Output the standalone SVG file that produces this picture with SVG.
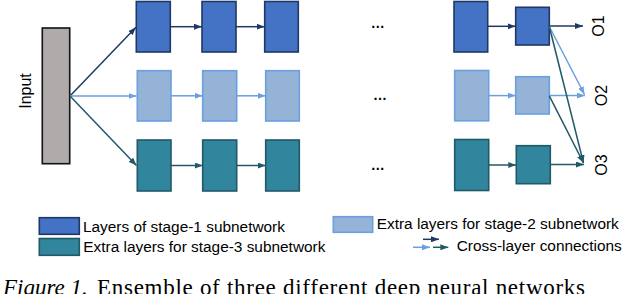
<svg xmlns="http://www.w3.org/2000/svg" width="622" height="294" viewBox="0 0 622 294">
<style>
.t{font-family:"Liberation Sans",Arial,sans-serif;fill:#000}
.lg{font-size:15.4px}
.b1{fill:#4472C4;stroke:#1F3864;stroke-width:1.6}
.b2{fill:#95B3D7;stroke:#6A9FE0;stroke-width:1.6}
.b3{fill:#31859C;stroke:#215968;stroke-width:1.6}
.a1{stroke:#1F3864;stroke-width:1.5;fill:none;marker-end:url(#m1)}
.a2{stroke:#6A9FE0;stroke-width:1.5;fill:none;marker-end:url(#m2)}
.a3{stroke:#215968;stroke-width:1.5;fill:none;marker-end:url(#m3)}
.dots{font-family:"Liberation Sans",Arial,sans-serif;font-size:14px;font-weight:bold;text-anchor:middle}
</style>
<defs>
<marker id="m1" markerUnits="userSpaceOnUse" markerWidth="8" markerHeight="6" refX="8" refY="3" orient="auto"><path d="M0,0 L8,3 L0,6 z" fill="#1F3864"/></marker>
<marker id="m2" markerUnits="userSpaceOnUse" markerWidth="8" markerHeight="6" refX="8" refY="3" orient="auto"><path d="M0,0 L8,3 L0,6 z" fill="#6A9FE0"/></marker>
<marker id="m3" markerUnits="userSpaceOnUse" markerWidth="8" markerHeight="6" refX="8" refY="3" orient="auto"><path d="M0,0 L8,3 L0,6 z" fill="#215968"/></marker>
</defs>

<g id="input">
<rect x="42.3" y="28" width="27.4" height="135.7" fill="#AFABAB" stroke="#111" stroke-width="1.6"/>
<text class="t" font-size="16" text-anchor="middle" transform="translate(31,91) rotate(-90)">Input</text>
</g>

<g id="row1">
<rect id="r1b1" class="b1" x="136.3" y="1.5" width="34" height="50.5"/>
<rect id="r1b2" class="b1" x="202" y="1.5" width="34" height="50.5"/>
<rect id="r1b3" class="b1" x="264.7" y="1.5" width="33.6" height="50.5"/>
<text class="dots" x="377.7" y="28">…</text>
<rect id="r1b4" class="b1" x="454" y="1.5" width="33.7" height="50.5"/>
<rect id="r1b5" class="b1" x="515.7" y="7.3" width="33.6" height="37.7"/>
</g>
<g id="row2">
<rect id="r2b1" class="b2" x="137.3" y="70.7" width="33.7" height="50.3"/>
<rect id="r2b2" class="b2" x="202.7" y="70.7" width="34" height="50.3"/>
<rect id="r2b3" class="b2" x="265.7" y="70.7" width="33.6" height="50.3"/>
<text class="dots" x="380" y="100">…</text>
<rect id="r2b4" class="b2" x="454.7" y="70.5" width="34" height="50.3"/>
<rect id="r2b5" class="b2" x="515.7" y="76.7" width="33.6" height="37.3"/>
</g>
<g id="row3">
<rect id="r3b1" class="b3" x="137.3" y="140" width="33.7" height="51"/>
<rect id="r3b2" class="b3" x="202.7" y="140" width="34" height="51"/>
<rect id="r3b3" class="b3" x="265.7" y="140" width="33.6" height="51"/>
<text class="dots" x="377.7" y="170">…</text>
<rect id="r3b4" class="b3" x="454.7" y="139.5" width="34" height="51"/>
<rect id="r3b5" class="b3" x="516.3" y="145.7" width="34" height="38"/>
</g>

<g id="outputs" class="t" font-size="16" text-anchor="middle">
<text id="o1" transform="translate(604,26) rotate(-90)">O1</text>
<text id="o2" transform="translate(607,95.5) rotate(-90)">O2</text>
<text id="o3" transform="translate(607,165) rotate(-90)">O3</text>
</g>

<g id="connectors">
<line class="a1" x1="70" y1="96" x2="136" y2="27.3"/>
<line class="a2" x1="70" y1="96" x2="136.5" y2="96"/>
<line class="a3" x1="70" y1="96" x2="136.5" y2="165.5"/>
<line class="a1" x1="170.3" y1="26.7" x2="202" y2="26.7"/>
<line class="a1" x1="236" y1="26.7" x2="264.7" y2="26.7"/>
<line class="a2" x1="171" y1="95.8" x2="202.7" y2="95.8"/>
<line class="a2" x1="236.7" y1="95.8" x2="265.7" y2="95.8"/>
<line class="a3" x1="171" y1="165.5" x2="202.7" y2="165.5"/>
<line class="a3" x1="236.7" y1="165.5" x2="265.7" y2="165.5"/>
<line class="a1" x1="487.7" y1="26.3" x2="515.7" y2="26.3"/>
<line class="a2" x1="488.7" y1="95.6" x2="515.7" y2="95.6"/>
<line class="a3" x1="488.7" y1="165" x2="516.3" y2="165"/>
<line class="a1" x1="549.3" y1="26" x2="583" y2="26"/>
<line class="a2" x1="549.3" y1="95.6" x2="585" y2="95.6"/>
<line class="a3" x1="550.3" y1="164.5" x2="584" y2="164.5"/>
<line class="a2" x1="549.3" y1="26.5" x2="584.5" y2="94.5"/>
<line class="a3" x1="549.3" y1="26.5" x2="583.5" y2="163"/>
<line class="a3" x1="549.3" y1="95.8" x2="583.5" y2="163"/>
</g>

<g id="legend">
<rect class="b1" x="39.3" y="217.7" width="40" height="16.6"/>
<text class="t lg" x="83" y="232">Layers of stage-1 subnetwork</text>
<rect class="b3" x="39.3" y="238.5" width="40" height="16.8"/>
<text class="t lg" x="83.3" y="251.5">Extra layers for stage-3 subnetwork</text>
<rect class="b2" x="333.3" y="216.7" width="39.4" height="15.6"/>
<text class="t lg" x="376.7" y="229">Extra layers for stage-2 subnetwork</text>
<line class="a2" x1="413" y1="247.3" x2="430" y2="247.3"/>
<line class="a1" x1="423" y1="239.3" x2="439" y2="239.3"/>
<line class="a3" x1="433" y1="247.3" x2="448.3" y2="247.3"/>
<text class="t lg" x="456.7" y="250.7">Cross-layer connections</text>
</g>

<g id="caption" font-family="'Liberation Serif','Times New Roman',serif" font-size="23">
<text x="3" y="295" font-style="italic">Figure 1.</text>
<text x="97" y="295" textLength="488" lengthAdjust="spacing">Ensemble of three different deep neural networks</text>
</g>
</svg>
